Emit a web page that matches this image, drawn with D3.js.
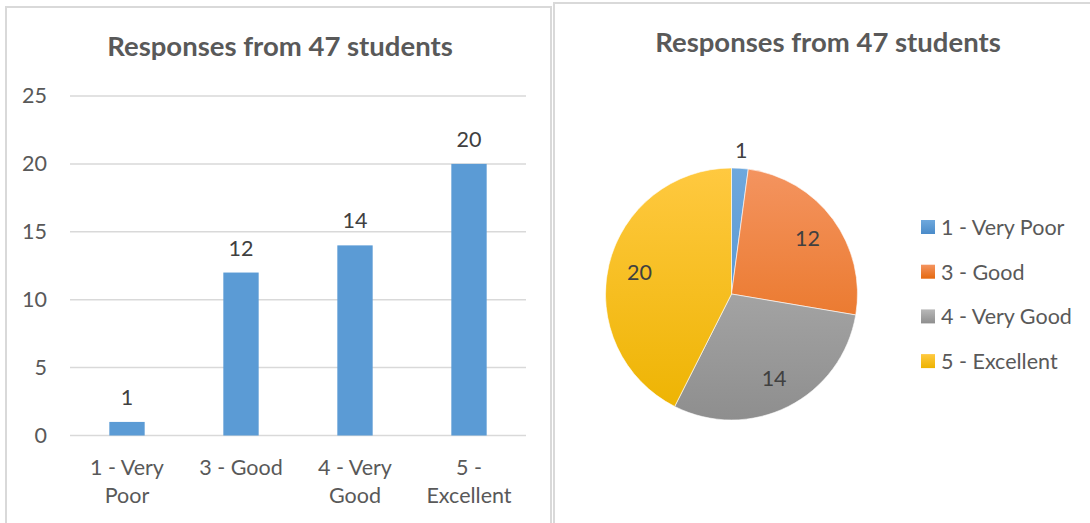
<!DOCTYPE html>
<html>
<head>
<meta charset="utf-8">
<script src="https://cdn.jsdelivr.net/npm/d3@7"></script>
<style>
  html, body { margin: 0; padding: 0; background: #ffffff; }
  svg { display: block; }
  text { font-family: Lato, "Open Sans", sans-serif; }
</style>
</head>
<body>
<svg id="chart" width="1090" height="523"></svg>
<script>
// ---- data ----
const chartTitle = "Responses from 47 students";
const categories = ["1 - Very Poor", "3 - Good", "4 - Very Good", "5 - Excellent"];
const categoryLines = [["1 - Very", "Poor"], ["3 - Good"], ["4 - Very", "Good"], ["5 -", "Excellent"]];
const counts = [1, 12, 14, 20];
const yTicks = [0, 5, 10, 15, 20, 25];
const sliceColors = [
  ["#6ea8dd", "#4a8bc9"],
  ["#f49460", "#e5690f"],
  ["#b8b8b8", "#8e8e8e"],
  ["#ffc940", "#edb300"]
];

const FS = 21.5;
const svg = d3.select("#chart");
const defs = svg.append("defs");

// ---- panel borders ----
svg.append("path").attr("d", "M6,524 V7 H551 V524")
  .attr("fill", "none").attr("stroke", "#d9d9d9").attr("stroke-width", 2);
svg.append("path").attr("d", "M554,524 V3 H1092")
  .attr("fill", "none").attr("stroke", "#d9d9d9").attr("stroke-width", 2);

// ================= BAR CHART =================
const left = svg.append("g");
left.append("text")
  .attr("x", 280).attr("y", 56)
  .attr("text-anchor", "middle")
  .attr("font-size", 27.5).attr("font-weight", 700)
  .attr("fill", "#595959")
  .text(chartTitle);

const x = d3.scaleBand().domain(categories).range([70, 526])
  .paddingInner(0.69).paddingOuter(0.345);
const y = d3.scaleLinear().domain([0, 25]).range([435.5, 96]);

// gridlines
left.append("g").selectAll("line").data(yTicks).join("line")
  .attr("x1", 70).attr("x2", 526)
  .attr("y1", d => y(d)).attr("y2", d => y(d))
  .attr("stroke", "#d9d9d9").attr("stroke-width", 1.5);

// y axis labels
const yAxis = d3.axisLeft(y).tickValues(yTicks).tickSize(0).tickPadding(0);
const yg = left.append("g").attr("transform", "translate(47,0)").call(yAxis);
yg.select(".domain").remove();
yg.selectAll("text").attr("font-size", FS).attr("fill", "#595959")
  .attr("font-family", "Lato, sans-serif");

// bars
left.append("g").selectAll("rect").data(counts).join("rect")
  .attr("x", (d, i) => x(categories[i]))
  .attr("width", x.bandwidth())
  .attr("y", d => y(d))
  .attr("height", d => y(0) - y(d))
  .attr("fill", "#5b9bd5");

// value labels
left.append("g").selectAll("text").data(counts).join("text")
  .attr("x", (d, i) => x(categories[i]) + x.bandwidth() / 2)
  .attr("y", d => y(d) - 25)
  .attr("text-anchor", "middle")
  .attr("dominant-baseline", "central")
  .attr("font-size", FS).attr("fill", "#404040")
  .text(d => d);

// category labels
const catG = left.append("g").selectAll("text").data(categoryLines).join("text")
  .attr("x", (d, i) => x(categories[i]) + x.bandwidth() / 2)
  .attr("y", 474.5)
  .attr("text-anchor", "middle")
  .attr("font-size", FS).attr("fill", "#595959");
catG.selectAll("tspan").data(d => d).join("tspan")
  .attr("x", function() { return d3.select(this.parentNode).attr("x"); })
  .attr("dy", (d, j) => j === 0 ? 0 : 28.5)
  .text(d => d);

// ================= PIE CHART =================
const right = svg.append("g");
right.append("text")
  .attr("x", 828).attr("y", 52)
  .attr("text-anchor", "middle")
  .attr("font-size", 27.5).attr("font-weight", 700)
  .attr("fill", "#595959")
  .text(chartTitle);

const cx = 731.5, cy = 294, R = 126;
sliceColors.forEach((c, i) => {
  const g = defs.append("linearGradient").attr("id", "pg" + i)
    .attr("gradientUnits", "userSpaceOnUse")
    .attr("x1", 0).attr("y1", -R).attr("x2", 0).attr("y2", R);
  g.append("stop").attr("offset", "0%").attr("stop-color", c[0]);
  g.append("stop").attr("offset", "100%").attr("stop-color", c[1]);
  const lg = defs.append("linearGradient").attr("id", "lg" + i)
    .attr("x1", 0).attr("y1", 0).attr("x2", 0).attr("y2", 1);
  lg.append("stop").attr("offset", "0%").attr("stop-color", c[0]);
  lg.append("stop").attr("offset", "100%").attr("stop-color", c[1]);
});

const pie = d3.pie().sort(null).value(d => d)(counts);
const arc = d3.arc().innerRadius(0).outerRadius(R);
const pg = right.append("g").attr("transform", `translate(${cx},${cy})`);
pg.selectAll("path").data(pie).join("path")
  .attr("d", arc)
  .attr("fill", (d, i) => `url(#pg${i})`)
  .attr("stroke", "#ffffff").attr("stroke-width", 0.6);

const inLabel = d3.arc().innerRadius(R * 0.75).outerRadius(R * 0.75);
const outLabel = d3.arc().innerRadius(R + 18).outerRadius(R + 18);
pg.selectAll("text").data(pie).join("text")
  .attr("transform", d => {
    const a = (d.endAngle - d.startAngle) < 0.3 ? outLabel : inLabel;
    return `translate(${a.centroid(d)})`;
  })
  .attr("text-anchor", "middle")
  .attr("dominant-baseline", "central")
  .attr("font-size", FS).attr("fill", "#404040")
  .text(d => d.data);

// legend
const legend = right.append("g").selectAll("g").data(categories).join("g")
  .attr("transform", (d, i) => `translate(921,${227 + i * 44.7})`);
legend.append("rect").attr("x", 0).attr("y", -7).attr("width", 14).attr("height", 14)
  .attr("fill", (d, i) => `url(#lg${i})`);
legend.append("text").attr("x", 20).attr("y", 0)
  .attr("dominant-baseline", "central")
  .attr("font-size", FS).attr("fill", "#595959")
  .text(d => d);
</script>
</body>
</html>
